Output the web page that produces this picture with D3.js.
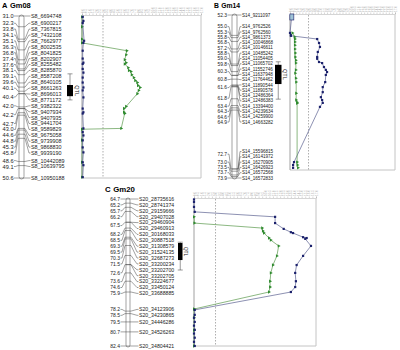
<!DOCTYPE html>
<html>
<head>
<meta charset="utf-8">
<script src="https://cdn.jsdelivr.net/npm/d3@7"></script>
<style>
  body { margin: 0; background: #fff; }
  svg { font-family: "Liberation Sans", Arial, sans-serif; }
</style>
</head>
<body>
<div id="chart"></div>
<script>
// ---------- Gm08 ----------
const gm08Pos = [31.0, 32.3, 33.8, 34.1, 35.1, 36.3, 36.8, 37.4, 37.6, 38.1, 39.1, 39.6, 40.1, 40.4, 40.4,
  42.0, 42.2, 42.2, 42.7, 43.0, 44.6, 44.8, 45.3, 45.8, 48.6, 49.1, 50.6];
const gm08Markers = ["S8_6694748", "S8_6900217", "S8_7367815", "S8_7432108", "S8_7662977", "S8_8002535",
  "S8_8041825", "S8_8202907", "S8_8255482", "S8_8285870", "S8_8587208", "S8_8640105", "S8_8661263",
  "S8_8696013", "S8_8771172", "S8_9382322", "S8_9407934", "S8_9407935", "S8_9441704", "S8_9589829",
  "S8_9675058", "S8_9739908", "S8_9868830", "S8_9939190", "S8_10442089", "S8_10639795", "S8_10950188"];
const gm08BlueCM = [31.1, 31.6, 31.85, 34.0, 34.25, 35.2, 36.15, 36.65, 36.8, 37.4, 37.85, 38.45, 39.05, 39.65,
  40.0, 40.85, 42.2, 42.65, 42.8, 44.6, 45.05, 45.45, 46.05, 46.9, 47.5, 48.7, 49.05, 50.5];
const gm08BlueLod = [0.1, 0.2, 0.1, 0.3, 0.2, 0.1, 0.1, 0.2, 0.1, 0.1, 0.2, 0.1, 0.1, 0.2,
  0.1, 0.2, 0.1, 0.2, 0.1, 0.2, 0.1, 0.2, 0.1, 0.1, 0.2, 0.1, 0.2, 0.1];
const gm08GreenCM = [31.1, 32.3, 33.8, 34.25, 35.2, 35.7, 36.3, 36.65, 36.8, 37.25, 37.6, 37.7, 38.1, 38.45,
  38.8, 39.05, 39.4, 39.65, 40.0, 40.4, 41.95, 42.2, 42.65, 42.8, 44.6, 44.7, 46.0, 48.7, 50.5];
const gm08GreenLod = [0, 0, 0, 0, 6.4, 6.3, 6.1, 6.3, 6.1, 6.6, 6.7, 7.0, 7.1, 7.4,
  7.6, 7.9, 8.0, 8.3, 8.1, 7.9, 6.3, 6.0, 6.0, 6.1, 5.6, 0, 0, 0, 0];
const gm08Qtl = [38.0, 39.35, 40.7, 41.15];

// ---------- Gm14 ----------
const gm14Pos = [52.3, 55.0, 55.3, 55.8, 56.8, 57.2, 58.8, 59.0, 59.8, 60.3, 60.3, 60.8, 61.6, 61.6,
  61.8, 61.8, 63.4, 64.3, 64.6, 64.9, 72.7, 72.7, 73.0, 73.5, 73.7, 73.9];
const gm14Markers = ["S14_9211097", "S14_9762526", "S14_9762560", "S14_9861373", "S14_10046868",
  "S14_10146611", "S14_10485242", "S14_11054405", "S14_11065702", "S14_11552746", "S14_11637948",
  "S14_11764462", "S14_11890544", "S14_11890578", "S14_12486364", "S14_12486383", "S14_13394400",
  "S14_14239634", "S14_14259900", "S14_14663282", "S14_15596815", "S14_16141972", "S14_16270905",
  "S14_16426923", "S14_16572568", "S14_16572833"];
const gm14BlueCM = [52.3, 54.8, 55.1, 55.2, 55.65, 56.2, 56.75, 57.45, 58.15, 58.4, 58.85, 59.0, 59.55,
  59.95, 60.25, 60.65, 61.65, 62.35, 63.05, 63.75, 64.15, 64.55, 65.1, 72.8, 73.2, 73.6];
const gm14BlueLod = [0.3, 0, 0.15, 0.15, 4.4, 4.7, 4.85, 4.5, 4.4, 4.4, 4.7, 5.2, 5.5,
  5.8, 6.0, 5.8, 5.7, 5.3, 5.3, 5.0, 5.2, 5.3, 4.85, 0.65, 0.5, 0.5];
const gm14GreenCM = [54.8, 55.35, 55.65, 56.05, 56.5, 57.05, 57.6, 58.15, 58.6, 59.0, 59.95, 60.4, 61.1,
  61.65, 63.2, 64.15, 64.45, 64.6, 72.8, 73.2, 73.6];
const gm14GreenLod = [0.4, 0.75, 0.8, 0.8, 0.8, 0.8, 0.85, 0.85, 0.95, 0.95, 0.95, 0.85, 0.95,
  1.0, 1.0, 1.0, 1.15, 1.15, 1.15, 1.2, 1.3];
const gm14Qtl = [58.5, 58.9, 61.45, 63.45];

// ---------- Gm20 ----------
const gm20Pos = [64.7, 65.2, 65.7, 66.2, 67.5, 67.5, 68.2, 68.5, 69.3, 69.5, 70.3, 71.5, 72.6, 72.6,
  73.6, 74.6, 75.9, 78.2, 78.5, 79.5, 80.7, 82.4];
const gm20Markers = ["S20_28735616", "S20_28741374", "S20_29159666", "S20_29407028", "S20_29460904",
  "S20_29460913", "S20_30168033", "S20_30887518", "S20_31308579", "S20_31524135", "S20_32687273",
  "S20_33200234", "S20_33202700", "S20_33202705", "S20_33224677", "S20_33450124", "S20_33688885",
  "S20_34123906", "S20_34230865", "S20_34446286", "S20_34526263", "S20_34804421"];
const gm20BlueCM = [64.75, 65.05, 65.65, 66.25, 66.85, 67.6, 68.3, 68.7, 68.8, 69.3, 69.4, 69.5, 70.35,
  71.55, 72.65, 73.6, 74.6, 75.3, 75.9, 78.05, 78.65, 79.0, 79.5, 79.95, 80.45, 80.9, 81.4, 81.9, 82.4];
const gm20BlueLod = [0, 0, 0, 0.1, 11.3, 11.3, 12.5, 13.5, 13.8, 15.2, 15.7, 15.5, 16.3,
  15.2, 14.3, 14.1, 14.2, 14.1, 13.5, 0.1, 0.1, 0, 0.1, 0, 0.1, 0, 0.1, 0, 0.1];
const gm20GreenCM = [66.85, 67.6, 68.2, 68.55, 68.8, 69.4, 69.65, 70.35, 71.55, 72.65, 73.6, 74.6, 75.3,
  75.9, 77.95, 79.0, 80.5, 82.4];
const gm20GreenLod = [0, 0.05, 9.5, 9.6, 9.75, 10.45, 10.7, 11.8, 11.55, 11.0, 10.7, 10.6, 10.6,
  10.45, 0, 0, 0, 0];
const gm20Qtl = [69.9, 70.0, 72.05, 73.25];

// LOD axis
const lodDomain = [0, 17];
const lodThreshold = 3;
const lodTicks = d3.range(0, 17.01, 0.5);

const svg = d3.select("#chart")
  .append("svg")
    .attr("width", 400)
    .attr("height", 350);

// push overlapping labels apart, keeping each block centred on its markers
function spreadLabels(targets, gap, minY, maxY) {
  const place = b => {
    let s = 0;
    for (let j = 0; j < b.n; j++) s += targets[b.start + j] - j * gap;
    b.top = Math.max(minY, Math.min(maxY - (b.n - 1) * gap, s / b.n));
  };
  const blocks = targets.map((t, i) => { const b = {start: i, n: 1}; place(b); return b; });
  let merged = true;
  while (merged) {
    merged = false;
    for (let i = 0; i < blocks.length - 1; i++) {
      const a = blocks[i], b = blocks[i + 1];
      if (a.top + a.n * gap > b.top + 0.01) {
        a.n += b.n;
        blocks.splice(i + 1, 1);
        place(a);
        merged = true;
        break;
      }
    }
  }
  const out = [];
  blocks.forEach(b => { for (let j = 0; j < b.n; j++) out.push(b.top + j * gap); });
  return out;
}

function drawPanel(c) {
  const g = svg.append("g");

  // header
  g.append("text")
    .attr("x", c.head[0]).attr("y", c.head[1])
    .style("font-size", c.headSize + "px").style("font-weight", "bold")
    .text(c.letter);
  g.append("text")
    .attr("x", c.head[0] + c.headSize * 1.05).attr("y", c.head[1])
    .style("font-size", c.headSize + "px").style("font-weight", "bold")
    .text(c.chrom);

  // chromosome
  const yChr = d3.scaleLinear().domain([c.pos[0], c.pos[c.pos.length - 1]]).range(c.chrRange);
  g.append("rect")
    .attr("x", c.chrX).attr("y", c.chrRange[0] - 1)
    .attr("width", c.chrW).attr("height", c.chrRange[1] - c.chrRange[0] + 2)
    .attr("rx", c.chrW / 2)
    .attr("fill", "#fff").attr("stroke", "#666").attr("stroke-width", 0.6);

  const nameY = spreadLabels(c.pos.map(yChr), c.gap, c.chrRange[0], c.chrRange[1]);
  const groups = d3.groups(c.pos.map((p, i) => ({p, i})), d => d.p);

  // marker lines across the chromosome and to the names
  c.pos.forEach((p, i) => {
    const ty = yChr(p);
    g.append("line")
      .attr("x1", c.chrX).attr("x2", c.chrX + c.chrW)
      .attr("y1", ty).attr("y2", ty)
      .attr("stroke", "#444").attr("stroke-width", 0.5);
    const xr = c.chrX + c.chrW;
    g.append("path")
      .attr("d", `M${xr},${ty}H${xr + 1}L${c.nameLeft - 2},${nameY[i]}H${c.nameLeft - 0.5}`)
      .attr("fill", "none").attr("stroke", "#444").attr("stroke-width", 0.5);
    g.append("text")
      .attr("x", c.nameLeft).attr("y", nameY[i]).attr("dy", "0.36em")
      .style("font-size", c.font + "px").attr("fill", "#222")
      .text(c.names[i]);
  });

  // position labels, one per distinct position
  groups.forEach(([p, items]) => {
    const ly = d3.mean(items, d => nameY[d.i]);
    const ty = yChr(p);
    g.append("path")
      .attr("d", `M${c.chrX},${ty}H${c.chrX - 1}L${c.posRight + 2},${ly}H${c.posRight + 0.5}`)
      .attr("fill", "none").attr("stroke", "#444").attr("stroke-width", 0.5);
    g.append("text")
      .attr("x", c.posRight).attr("y", ly).attr("dy", "0.36em")
      .attr("text-anchor", "end")
      .style("font-size", c.posFont + "px").attr("fill", "#222")
      .text(p.toFixed(1));
  });

  // QTL interval
  const qx = c.qtlX + c.qtlW / 2;
  g.append("line")
    .attr("x1", qx).attr("x2", qx)
    .attr("y1", yChr(c.qtl[0])).attr("y2", yChr(c.qtl[3]))
    .attr("stroke", "#555").attr("stroke-width", 0.6);
  [c.qtl[0], c.qtl[3]].forEach(v => {
    g.append("line")
      .attr("x1", qx - 2.5).attr("x2", qx + 2.5)
      .attr("y1", yChr(v)).attr("y2", yChr(v))
      .attr("stroke", "#555").attr("stroke-width", 0.6);
  });
  g.append("rect")
    .attr("x", c.qtlX).attr("y", yChr(c.qtl[1]))
    .attr("width", c.qtlW).attr("height", yChr(c.qtl[2]) - yChr(c.qtl[1]))
    .attr("fill", "#000");
  const tq = (yChr(c.qtl[1]) + yChr(c.qtl[2])) / 2;
  g.append("text")
    .attr("transform", `translate(${c.qtlX + c.qtlW + 1.5},${tq}) rotate(90)`)
    .attr("text-anchor", "middle")
    .style("font-size", c.qtlFont + "px").attr("fill", "#222")
    .text("QTL");

  // LOD plot
  const x = d3.scaleLinear().domain(lodDomain).range(c.plotX);
  const y = d3.scaleLinear().domain([c.pos[0], c.pos[c.pos.length - 1]]).range(c.plotY);
  const [x0, x1] = c.plotX, [y0, y1] = c.plotY;

  g.append("path")
    .attr("d", `M${x0},${y1}H${x1}V${y0}`)
    .attr("fill", "none").attr("stroke", "#c4c4c4").attr("stroke-width", 1);

  g.append("line")
    .attr("x1", x(lodThreshold)).attr("x2", x(lodThreshold))
    .attr("y1", y0).attr("y2", y1)
    .attr("stroke", "#777").attr("stroke-width", 0.6)
    .attr("stroke-dasharray", "1.5,1.5");

  const top = g.append("g")
    .attr("transform", `translate(0,${y0 - 1})`)
    .call(d3.axisTop(x).tickValues(lodTicks).tickSize(1.5).tickPadding(1)
      .tickFormat(d3.format(".1f")));
  top.select(".domain").attr("stroke", "#aaa").attr("stroke-width", 0.5);
  top.selectAll(".tick line").attr("stroke", "#999").attr("stroke-width", 0.4);
  top.selectAll(".tick text")
    .attr("transform", "rotate(-90)")
    .attr("x", 2).attr("y", 0).attr("dy", "0.35em")
    .attr("text-anchor", "start")
    .style("font-size", "3px").attr("fill", "#aaa");

  g.append("line")
    .attr("x1", x0).attr("x2", x0).attr("y1", y0).attr("y2", y1)
    .attr("stroke", "#888").attr("stroke-width", 0.8);

  const line = d3.line().x(d => x(d.lod)).y(d => y(d.cm));
  const green = c.greenCM.map((cm, i) => ({cm, lod: c.greenLod[i]}));
  const blue = c.blueCM.map((cm, i) => ({cm, lod: c.blueLod[i]}));

  const drawGreen = () => {
    g.append("path").datum(green).attr("d", line)
      .attr("fill", "none").attr("stroke", "#5a9a4c").attr("stroke-width", 0.7);
    g.selectAll(null).data(green).join("path")
      .attr("d", d3.symbol(d3.symbolTriangle, 5))
      .attr("transform", d => `translate(${x(d.lod)},${y(d.cm)}) rotate(90)`)
      .attr("fill", "#2e8a2e");
  };
  const drawBlue = () => {
    g.append("path").datum(blue).attr("d", line)
      .attr("fill", "none").attr("stroke", "#5b6190").attr("stroke-width", 0.7);
    g.selectAll(null).data(blue).join("rect")
      .attr("x", d => x(d.lod) - 1.1).attr("y", d => y(d.cm) - 1.1)
      .attr("width", 2.2).attr("height", 2.2)
      .attr("fill", "#1b216c");
  };
  if (c.blueOnTop) { drawGreen(); drawBlue(); } else { drawBlue(); drawGreen(); }

  if (c.highlightFirst) {
    const d = blue[0];
    g.append("rect")
      .attr("x", x(d.lod) - 2).attr("y", y(d.cm) - 1)
      .attr("width", 4).attr("height", 6)
      .attr("fill", "#9fc3d6").attr("stroke", "#1b216c").attr("stroke-width", 0.6);
  }
}

drawPanel({
  letter: "A", chrom: "Gm08", head: [2, 8], headSize: 7.5,
  pos: gm08Pos, names: gm08Markers, qtl: gm08Qtl,
  blueCM: gm08BlueCM, blueLod: gm08BlueLod, greenCM: gm08GreenCM, greenLod: gm08GreenLod,
  chrX: 19, chrW: 5, chrRange: [16, 178], posRight: 13.5, nameLeft: 31,
  font: 5.4, posFont: 5.6, gap: 5.9,
  qtlX: 67, qtlW: 6, qtlFont: 5.5,
  plotX: [82, 201], plotY: [16, 178], blueOnTop: true
});

drawPanel({
  letter: "B", chrom: "Gm14", head: [214, 8], headSize: 6.8,
  pos: gm14Pos, names: gm14Markers, qtl: gm14Qtl,
  blueCM: gm14BlueCM, blueLod: gm14BlueLod, greenCM: gm14GreenCM, greenLod: gm14GreenLod,
  chrX: 232, chrW: 5, chrRange: [15, 178], posRight: 227, nameLeft: 242,
  font: 4.6, posFont: 4.9, gap: 5.3,
  qtlX: 275, qtlW: 6.5, qtlFont: 5.5,
  plotX: [290, 395], plotY: [15, 170], blueOnTop: false, highlightFirst: true
});

drawPanel({
  letter: "C", chrom: "Gm20", head: [105, 192], headSize: 7.8,
  pos: gm20Pos, names: gm20Markers, qtl: gm20Qtl,
  blueCM: gm20BlueCM, blueLod: gm20BlueLod, greenCM: gm20GreenCM, greenLod: gm20GreenLod,
  chrX: 126, chrW: 4, chrRange: [199, 346], posRight: 120, nameLeft: 139,
  font: 5.2, posFont: 5.0, gap: 5.9,
  qtlX: 178, qtlW: 4.5, qtlFont: 5,
  plotX: [194, 316], plotY: [199, 346], blueOnTop: true
});
</script>
</body>
</html>
